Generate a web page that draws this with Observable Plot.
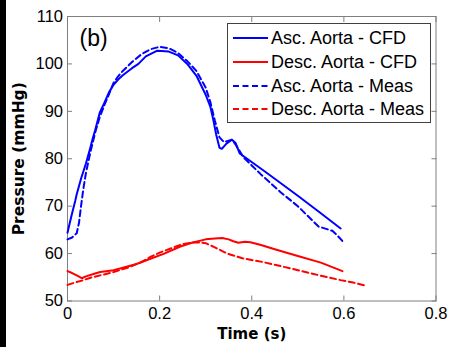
<!DOCTYPE html>
<html>
<head>
<meta charset="utf-8">
<script src="https://cdn.jsdelivr.net/npm/d3@7"></script>
<script src="https://cdn.jsdelivr.net/npm/@observablehq/plot@0.6"></script>
<style>
  html, body { margin: 0; padding: 0; background: white; }
  #wrap { position: relative; width: 451px; height: 350px; overflow: hidden; }
  #strip { position: absolute; left: 0; top: 0; width: 6px; height: 347px; background: black; }
  #legend { position: absolute; left: 227px; top: 23px; }
</style>
</head>
<body>
<div id="wrap"><div id="strip"></div></div>
<script>
// ---- data ----
const ascCfdT = [0, 0.005, 0.01, 0.017, 0.02, 0.03, 0.04, 0.05, 0.054, 0.06, 0.07, 0.08, 0.09, 0.1, 0.11, 0.12, 0.14, 0.154, 0.17, 0.195, 0.22, 0.24, 0.26, 0.28, 0.3, 0.31, 0.317, 0.323, 0.33, 0.335, 0.345, 0.357, 0.365, 0.374, 0.39, 0.43, 0.5, 0.55, 0.593];
const ascCfdP = [64.4, 66.5, 68.5, 71.2, 72.5, 76, 79, 82.5, 84, 86, 89.7, 91.8, 94, 95.6, 96.7, 97.6, 99.1, 100, 101.6, 102.8, 102.6, 101.8, 100, 97.5, 93.5, 91, 88, 85, 82.3, 82.1, 83.2, 84, 83.3, 81.1, 80, 77.2, 72.2, 68.5, 65.3];

const ascMeasT = [0, 0.01, 0.02, 0.025, 0.03, 0.035, 0.04, 0.05, 0.06, 0.07, 0.08, 0.09, 0.1, 0.11, 0.12, 0.14, 0.16, 0.18, 0.2, 0.22, 0.24, 0.26, 0.28, 0.3, 0.31, 0.32, 0.33, 0.34, 0.35, 0.357, 0.365, 0.382, 0.42, 0.462, 0.5, 0.545, 0.575, 0.586, 0.6];
const ascMeasP = [63, 63.4, 64.3, 66.5, 70.5, 74, 77, 81.5, 85.5, 88.8, 91.3, 93.6, 96, 97.4, 98.5, 100.4, 102, 103.1, 103.6, 103.3, 102.3, 100.6, 98.5, 95, 92, 88, 84.5, 83.5, 83.8, 84, 83, 80.3, 76.7, 73, 70, 65.7, 64.8, 63.8, 62.3];

const descCfdT = [0, 0.01, 0.02, 0.031, 0.04, 0.06, 0.071, 0.1, 0.12, 0.15, 0.18, 0.21, 0.245, 0.27, 0.3, 0.32, 0.336, 0.35, 0.36, 0.371, 0.385, 0.397, 0.42, 0.45, 0.5, 0.55, 0.597];
const descCfdP = [56.3, 55.9, 55.4, 54.8, 55.2, 55.8, 56.1, 56.5, 57.0, 57.8, 58.9, 60.0, 61.5, 62.3, 63.0, 63.2, 63.3, 63.0, 62.6, 62.3, 62.5, 62.4, 61.8, 60.9, 59.5, 58.1, 56.3];

const descMeasT = [0, 0.02, 0.031, 0.05, 0.071, 0.1, 0.13, 0.16, 0.18, 0.2, 0.23, 0.25, 0.27, 0.282, 0.3, 0.32, 0.347, 0.38, 0.425, 0.47, 0.534, 0.57, 0.593, 0.62, 0.645];
const descMeasP = [53.4, 54.0, 54.3, 54.9, 55.4, 56.1, 57.0, 58.2, 59.3, 60.2, 61.3, 62.0, 62.3, 62.4, 62.2, 61.3, 60.0, 59.0, 58.2, 57.2, 55.7, 54.9, 54.4, 53.9, 53.3];

const xTicks = [0, 0.2, 0.4, 0.6, 0.8];
const xTickLabels = ["0", "0.2", "0.4", "0.6", "0.8"];
const yTicks = [50, 60, 70, 80, 90, 100, 110];
const yTickLabels = ["50", "60", "70", "80", "90", "100", "110"];

const seriesNames = ["Asc. Aorta - CFD", "Desc. Aorta - CFD", "Asc. Aorta - Meas", "Desc. Aorta - Meas"];
const seriesColors = ["#0000ff", "#ff0000", "#0000ff", "#ff0000"];
const seriesDash = [null, null, "6,3.5", "6,3.5"];

const xLabel = "Time (s)";
const yLabel = "Pressure (mmHg)";
const panelLabel = "(b)";

// ---- build tables ----
const zip = (T, P) => T.map((t, i) => ({t, p: P[i]}));
const series = [zip(ascCfdT, ascCfdP), zip(descCfdT, descCfdP), zip(ascMeasT, ascMeasP), zip(descMeasT, descMeasP)];

const FONT = "'Liberation Sans', Arial, sans-serif";
const BOLD = "'DejaVu Sans', Verdana, sans-serif";
const axisGray = "#7f7f7f";

const chart = Plot.plot({
  width: 451,
  height: 350,
  marginLeft: 67,
  marginRight: 15.5,
  marginTop: 16,
  marginBottom: 49.5,
  style: {fontFamily: FONT, fontSize: "16.5px", background: "white", color: "black", overflow: "visible"},
  x: {domain: [0, 0.8]},
  y: {domain: [50, 110]},
  marks: [
    Plot.frame({stroke: axisGray, strokeWidth: 1}),
    Plot.axisX(xTicks, {anchor: "bottom", tickSize: -5, tickPadding: 11, stroke: axisGray, fill: "black", tickFormat: (d) => xTickLabels[xTicks.indexOf(d)], label: null}),
    Plot.axisX(xTicks, {anchor: "top", tickSize: -5, stroke: axisGray, tickFormat: () => "", label: null}),
    Plot.axisY(yTicks, {anchor: "left", tickSize: -5, tickPadding: 9.5, stroke: axisGray, fill: "black", tickFormat: (d) => yTickLabels[yTicks.indexOf(d)], label: null}),
    Plot.axisY(yTicks, {anchor: "right", tickSize: -5, stroke: axisGray, tickFormat: () => "", label: null}),
    ...series.map((s, i) => Plot.line(s, {x: "t", y: "p", stroke: seriesColors[i], strokeWidth: 2, strokeDasharray: seriesDash[i] || undefined})),
    Plot.text([panelLabel], {frameAnchor: "top-left", dx: 12, dy: 22, fontSize: 23, textAnchor: "start", lineAnchor: "middle", fontFamily: FONT, fill: "black"}),
    Plot.text([xLabel], {frameAnchor: "bottom", dy: 33, fontSize: 15, fontWeight: "bold", fontFamily: BOLD, fill: "black", textAnchor: "middle", lineAnchor: "middle"}),
    Plot.text([yLabel], {frameAnchor: "left", dx: -48, rotate: -90, fontSize: 15.5, fontWeight: "bold", fontFamily: BOLD, fill: "black", textAnchor: "middle", lineAnchor: "middle"})
  ]
});

const wrap = document.getElementById("wrap");
wrap.insertBefore(chart, wrap.firstChild);

// ---- legend (inside plot area, top right) ----
const lw = 204, lh = 100;
const leg = d3.create("svg").attr("id", "legend").attr("width", lw).attr("height", lh);
leg.append("rect").attr("x", 0.5).attr("y", 0.5).attr("width", lw - 1).attr("height", lh - 1)
  .attr("fill", "white").attr("stroke", "#404040").attr("stroke-width", 1);
const rowY = [15, 39, 63, 86];
seriesNames.forEach((name, i) => {
  leg.append("line").attr("x1", 6).attr("x2", 41).attr("y1", rowY[i]).attr("y2", rowY[i])
    .attr("stroke", seriesColors[i]).attr("stroke-width", 2)
    .attr("stroke-dasharray", seriesDash[i]);
  leg.append("text").attr("x", 44).attr("y", rowY[i]).attr("dy", "0.36em")
    .attr("font-family", FONT).attr("font-size", 18).attr("fill", "black").text(name);
});
wrap.appendChild(leg.node());
</script>
</body>
</html>
